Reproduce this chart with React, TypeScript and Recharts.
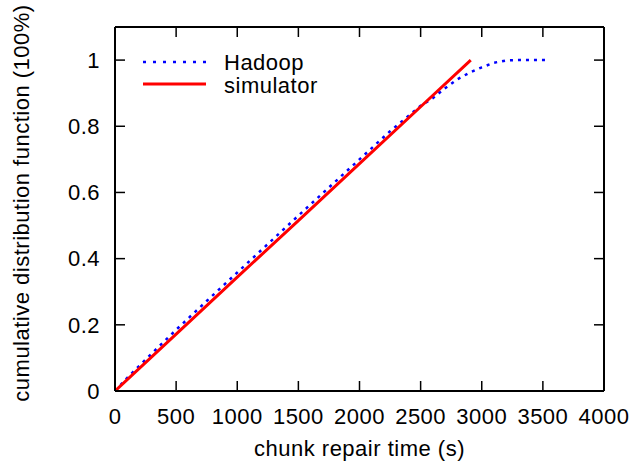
import { LineChart, Line, XAxis, YAxis, Legend } from "recharts";

const xTicks = [0, 500, 1000, 1500, 2000, 2500, 3000, 3500, 4000];
const yTicks = [0, 0.2, 0.4, 0.6, 0.8, 1];

const hadoopTime = [0, 100, 250, 500, 750, 1000, 1250, 1500, 1750, 2000, 2250, 2500, 2600, 2700, 2800, 2900, 3000, 3100, 3200, 3300, 3525];
const hadoopCdf = [0, 0.04, 0.095, 0.185, 0.272, 0.358, 0.444, 0.53, 0.615, 0.7, 0.785, 0.862, 0.885, 0.915, 0.942, 0.962, 0.978, 0.992, 0.999, 1, 1];

const simTime = [0, 500, 1000, 1500, 2000, 2500, 2910];
const simCdf = [0, 0.172, 0.344, 0.515, 0.687, 0.859, 1];

const hadoop = hadoopTime.map((t, i) => ({ t, cdf: hadoopCdf[i] }));
const simulator = simTime.map((t, i) => ({ t, cdf: simCdf[i] }));

const font = "'Liberation Sans', Arial, sans-serif";
const textStyle = { fill: "#000", fontSize: 22, fontFamily: font, letterSpacing: 0.5 };
const frame = { stroke: "#000", strokeWidth: 2 };
const tickLn = { stroke: "#000", strokeWidth: 1.5 };

// inward tick marks for the mirrored top / right axes
const TopTick = (props: any) => (
  <line x1={props.x} y1={props.y} x2={props.x} y2={props.y + 10} {...tickLn} />
);
const RightTick = (props: any) => (
  <line x1={props.x} y1={props.y} x2={props.x - 10} y2={props.y} {...tickLn} />
);

function LegendBox() {
  return (
    <svg width={220} height={60}>
      <line x1={3} y1={17} x2={66} y2={17} stroke="#0000ff" strokeWidth={2.5} strokeDasharray="3 7" />
      <text x={84} y={25} style={textStyle}>Hadoop</text>
      <line x1={3} y1={39} x2={66} y2={39} stroke="#ff0000" strokeWidth={3} />
      <text x={84} y={48} style={textStyle}>simulator</text>
    </svg>
  );
}

export default function App() {
  return (
    <div style={{ position: "absolute", left: 0, top: 0, background: "#fff" }}>
      <LineChart width={634} height={464} margin={{ top: 26, right: 29, bottom: 0, left: 0 }}>
        <XAxis
          xAxisId="bottom"
          dataKey="t"
          type="number"
          domain={[0, 4000]}
          allowDataOverflow
          ticks={xTicks}
          interval={0}
          height={73}
          tickSize={-10}
          tickMargin={27}
          tick={textStyle}
          axisLine={frame}
          tickLine={tickLn}
          label={{ value: "chunk repair time (s)", position: "insideBottom", offset: 8, style: textStyle }}
        />
        <XAxis
          xAxisId="top"
          orientation="top"
          dataKey="t"
          type="number"
          domain={[0, 4000]}
          allowDataOverflow
          ticks={xTicks}
          interval={0}
          height={1}
          tickSize={0}
          tickMargin={0}
          tick={<TopTick />}
          axisLine={frame}
          tickLine={false}
        />
        <YAxis
          yAxisId="left"
          type="number"
          domain={[0, 1.1]}
          allowDataOverflow
          ticks={yTicks}
          interval={0}
          width={115}
          tickSize={-10}
          tickMargin={25}
          tick={textStyle}
          axisLine={frame}
          tickLine={tickLn}
          label={{ value: "cumulative distribution function (100%)", angle: -90, position: "insideLeft", offset: 21, dy: -6, style: { ...textStyle, textAnchor: "middle" } }}
        />
        <YAxis
          yAxisId="right"
          orientation="right"
          type="number"
          domain={[0, 1.1]}
          allowDataOverflow
          ticks={yTicks}
          interval={0}
          width={1}
          tickSize={0}
          tickMargin={0}
          tick={<RightTick />}
          axisLine={frame}
          tickLine={false}
        />
        <Legend
          verticalAlign="middle"
          align="center"
          layout="horizontal"
          wrapperStyle={{ top: 45, left: 140, width: 220 }}
          content={() => <LegendBox />}
        />
        <Line
          xAxisId="top"
          yAxisId="right"
          data={hadoop}
          dataKey="cdf"
          stroke="#0000ff"
          strokeWidth={2.5}
          strokeDasharray="3 5"
          dot={false}
          isAnimationActive={false}
        />
        <Line
          xAxisId="bottom"
          yAxisId="left"
          data={simulator}
          dataKey="cdf"
          stroke="#ff0000"
          strokeWidth={3}
          dot={false}
          isAnimationActive={false}
        />
      </LineChart>
    </div>
  );
}
